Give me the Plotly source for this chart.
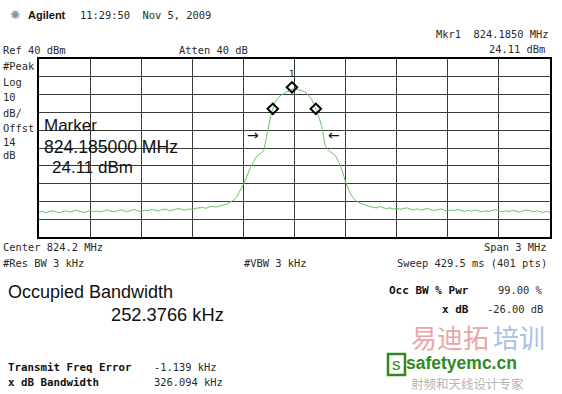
import numpy as np
import plotly.graph_objects as go

W, H = 562, 394

# ---- data ----
center_mhz = 824.2
span_mhz = 3.0
ref_dbm = 40
db_per_div = 10
n_points = 151

trace_dbm = [
    -46.1, -45.6, -46.3, -45.8, -45.2, -45.9, -46.4, -45.7, -45.3, -46.0,
    -45.5, -44.9, -45.6, -46.2, -45.8, -45.1, -45.7, -45.4, -46.0, -45.3,
    -44.8, -45.5, -45.9, -45.2, -44.7, -45.4, -45.8, -45.0, -44.6, -45.3,
    -45.7, -44.9, -45.2, -44.5, -45.0, -45.4, -44.7, -44.3, -44.9, -45.1,
    -44.4, -44.0, -44.6, -44.9, -44.2, -44.5, -43.9, -43.8, -43.4, -43.9,
    -43.1, -42.8, -43.2, -42.5, -42.1, -41.6, -40.6, -39.4, -37.6, -34.2,
    -30.4, -26.1, -21.2, -17.6, -14.4, -13.1, -11.3, -1.5, 7.8, 14.6,
    17.9, 19.6, 20.7, 21.9, 22.8, 23.4, 22.9, 22.4, 21.6, 19.9,
    17.4, 13.1, 8.2, 2.1, -8.6, -11.4, -12.8, -14.2, -18.1, -22.6,
    -29.2, -34.1, -37.4, -39.6, -40.8, -41.6, -42.1, -42.9, -43.2, -43.7,
    -42.9, -43.5, -44.1, -43.6, -44.3, -43.8, -44.5, -44.0, -43.6, -44.4,
    -44.8, -44.2, -44.9, -44.5, -43.9, -44.6, -45.1, -44.7, -44.2, -45.0,
    -45.4, -44.8, -45.2, -44.6, -45.3, -45.7, -45.0, -45.5, -44.9, -45.3,
    -45.8, -45.2, -45.6, -45.1, -44.6, -45.4, -45.9, -45.3, -45.7, -45.0,
    -45.5, -46.0, -45.4, -44.8, -45.2, -45.8, -45.3, -45.9, -46.2, -45.6, -46.0,
]

mkr_mhz = 824.1850
mkr_dbm = 24.11
obw_marker_mhz = [824.0727, 824.3251]
obw_marker_dbm = [12.0, 12.0]
xdb_arrow_mhz = [823.957, 824.432]
xdb_arrow_dbm = -2.7

start_mhz = center_mhz - span_mhz / 2
stop_mhz = center_mhz + span_mhz / 2
freq_mhz = np.linspace(start_mhz, stop_mhz, n_points)

MONO = "DejaVu Sans Mono"
SANS = "Liberation Sans"
TXT = "#2a2a2a"

fig = go.Figure()
fig.add_trace(go.Scatter(x=freq_mhz, y=trace_dbm, mode="lines",
                         line=dict(color="#62c862", width=1), hoverinfo="skip"))
fig.add_trace(go.Scatter(x=[mkr_mhz] + obw_marker_mhz, y=[mkr_dbm] + obw_marker_dbm,
                         mode="markers",
                         marker=dict(symbol="diamond-open", size=8, color="black",
                                     line=dict(width=2, color="black")),
                         hoverinfo="skip"))

annotations = []


def ann(text, x, y, size=10.4, anchor="left", family=MONO, color=TXT, pad=1, yanchor="middle"):
    annotations.append(dict(text=text, x=x / W, y=1 - y / H, xref="paper", yref="paper",
                            xanchor=anchor, yanchor=yanchor, showarrow=False, borderpad=pad,
                            font=dict(family=family, size=size, color=color)))


# header
ann("✺", 8, 15, size=12, family="DejaVu Sans", color="#7f93b0")
ann("<b>Agilent</b>", 26, 15, size=11, family=SANS, color="#111")
ann("11:29:50  Nov 5, 2009", 78, 15, size=10.4)
ann("Mkr1  824.1850 MHz", 551, 34, size=10.4, anchor="right")
ann("24.11 dBm", 547, 49, size=10.4, anchor="right")
ann("Ref 40 dBm", 1, 50, size=10.4)
ann("Atten 40 dB", 177, 50, size=10.4)

# left labels
for txt, yy in [("#Peak", 66), ("Log", 82), ("10", 97), ("dB/", 113),
                ("Offst", 128), ("14", 142), ("dB", 155)]:
    ann(txt, 1, yy, size=10.4)

# big marker readout
ann("Marker", 42, 125, size=17, family=SANS, color="#111")
ann("824.185000 MHz", 42, 147, size=17.6, family=SANS, color="#111")
ann("24.11 dBm", 50, 168, size=17, family=SANS, color="#111")

# marker labels / arrows
annotations.append(dict(text="1", x=mkr_mhz, y=mkr_dbm, xref="x", yref="y", yshift=13,
                        showarrow=False, font=dict(family=MONO, size=9, color="#111")))
annotations.append(dict(text="→", x=xdb_arrow_mhz[0], y=xdb_arrow_dbm, xref="x", yref="y",
                        showarrow=False, font=dict(family="DejaVu Sans", size=14, color="#111")))
annotations.append(dict(text="←", x=xdb_arrow_mhz[1], y=xdb_arrow_dbm, xref="x", yref="y",
                        showarrow=False, font=dict(family="DejaVu Sans", size=14, color="#111")))

# below-grid settings
ann("Center 824.2 MHz", 1, 247, size=10.4)
ann("Span 3 MHz", 549, 247, size=10.4, anchor="right")
ann("#Res BW 3 kHz", 1, 263, size=10.4)
ann("#VBW 3 kHz", 242, 263, size=10.4)
ann("Sweep 429.5 ms (401 pts)", 549, 263, size=10.4, anchor="right")

# measurement results
ann("Occupied Bandwidth", 6, 292, size=18, family=SANS, color="#111")
ann("252.3766 kHz", 109, 314, size=18.3, family=SANS, color="#111")
ann("<b>Occ BW % Pwr</b>", 471, 290, size=11, anchor="right", color="#111")
ann("99.00 %", 545, 290, size=10.4, anchor="right")
ann("<b>x dB</b>", 471, 309, size=11, anchor="right", color="#111")
ann("-26.00 dB", 545, 309, size=10.4, anchor="right")
ann("<b>Transmit Freq Error</b>", 6, 367, size=10.8, color="#111")
ann("-1.139 kHz", 152, 367, size=10.4)
ann("<b>x dB Bandwidth</b>", 6, 382, size=10.8, color="#111")
ann("326.094 kHz", 152, 382, size=10.4)

# watermark
ann("易迪拓", 410, 336, size=26, family="Noto Sans CJK SC", color="#eaa6a6", pad=0)
ann("培训", 492, 336, size=26, family="Noto Sans CJK SC", color="#a9c1e6", pad=0)
ann("<b>safetyemc.cn</b>", 405, 363, size=17.5, family=SANS, color="#2f8a1f", pad=0)
ann("s", 396.5, 364, size=17, anchor="center", family=SANS, color="#2f8a1f", pad=0)
ann("射频和天线设计专家", 410, 394, size=12.5, family="Noto Sans CJK SC", color="#b4b4b4",
    pad=0, yanchor="bottom")

shapes = [dict(type="rect", xref="paper", yref="paper",
               x0=388 / W, x1=405 / W, y0=1 - 375 / H, y1=1 - 354 / H,
               line=dict(color="#2f8a1f", width=2.5), fillcolor="rgba(0,0,0,0)")]

fig.update_layout(
    width=W, height=H, margin=dict(l=0, r=0, t=0, b=0),
    paper_bgcolor="white", plot_bgcolor="white", showlegend=False,
    annotations=annotations, shapes=shapes,
    xaxis=dict(domain=[39 / W, 550 / W], range=[start_mhz, stop_mhz],
               tick0=start_mhz, dtick=span_mhz / 10, showticklabels=False, ticks="",
               showgrid=True, gridcolor="#3a3a3a", gridwidth=1, zeroline=False,
               showline=True, linecolor="black", linewidth=2, mirror=True, fixedrange=True),
    yaxis=dict(domain=[1 - 237 / H, 1 - 59 / H],
               range=[ref_dbm - 10 * db_per_div, ref_dbm],
               tick0=ref_dbm, dtick=db_per_div, showticklabels=False, ticks="",
               showgrid=True, gridcolor="#3a3a3a", gridwidth=1, zeroline=False,
               showline=True, linecolor="black", linewidth=2, mirror=True, fixedrange=True),
)

fig.write_html("out.html")
